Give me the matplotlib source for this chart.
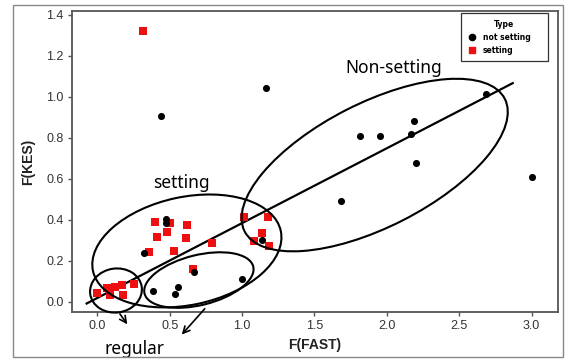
import matplotlib
matplotlib.use("Agg")
import matplotlib.pyplot as plt
from matplotlib.patches import Ellipse, Rectangle
from matplotlib.transforms import ScaledTranslation
from matplotlib.lines import Line2D

# ---- data ----
not_setting_x = [0.438, 1.164, 2.688, 2.186, 1.813, 1.951, 2.165, 2.204, 3.0, 1.682,
                 0.473, 0.473, 0.321, 1.14, 0.666, 0.386, 0.558, 0.535, 0.996]
not_setting_y = [0.909, 1.042, 1.013, 0.884, 0.81, 0.81, 0.818, 0.68, 0.611, 0.493,
                 0.403, 0.387, 0.237, 0.302, 0.148, 0.055, 0.075, 0.037, 0.112]

setting_x = [0.316, 0.0, 0.063, 0.086, 0.12, 0.167, 0.174, 0.252, 0.358, 0.397, 0.413,
             0.478, 0.50, 0.528, 0.611, 0.616, 0.657, 0.795, 1.014, 1.081, 1.14, 1.18, 1.186]
setting_y = [1.32, 0.042, 0.067, 0.034, 0.072, 0.083, 0.034, 0.088, 0.245, 0.389, 0.319,
             0.34, 0.384, 0.25, 0.31, 0.376, 0.161, 0.289, 0.416, 0.298, 0.335, 0.416, 0.275]

fit_intercept = 0.02
fit_slope = 0.365
fit_x_range = [-0.075, 2.87]

x_ticks = [0.0, 0.5, 1.0, 1.5, 2.0, 2.5, 3.0]
x_ticklabels = ["0.0", "0.5", "1.0", "1.5", "2.0", "2.5", "3.0"]
y_ticks = [0.0, 0.2, 0.4, 0.6, 0.8, 1.0, 1.2, 1.4]
y_ticklabels = ["0.0", "0.2", "0.4", "0.6", "0.8", "1.0", "1.2", "1.4"]

DPI = 100
W, H = 565, 359
fig = plt.figure(figsize=(W / DPI, H / DPI), dpi=DPI)
ax = fig.add_axes([72 / W, 1 - 312 / H, (558 - 72) / W, (312 - 11) / H])

tick_font = ["Liberation Sans Narrow", "Liberation Sans", "DejaVu Sans"]
note_font = ["Noto Sans", "DejaVu Sans"]

# regression line
fx = fit_x_range
fy = [fit_intercept + fit_slope * v for v in fx]
ax.plot(fx, fy, color="black", lw=1.6, zorder=2)

# scatter
ax.scatter(setting_x, setting_y, marker="s", s=34, color="#ee1010", linewidths=0, zorder=3)
ax.scatter(not_setting_x, not_setting_y, marker="o", s=26, color="black", linewidths=0, zorder=4)

# ellipses (center in data, size in pixels, angle in degrees)
ellipses = [
    (1.916, 0.668, 292, 124, 27),   # Non-setting
    (0.618, 0.249, 192, 108, 12),   # setting
    (0.128, 0.056, 52, 44, 8),      # regular 1
    (0.701, 0.107, 112, 50, 14),    # regular 2
]
for cx, cy, w, h, ang in ellipses:
    tr = fig.dpi_scale_trans + ScaledTranslation(cx, cy, ax.transData)
    e = Ellipse((0, 0), w / DPI, h / DPI, angle=ang, transform=tr,
                fill=False, edgecolor="black", lw=1.5, zorder=5, clip_on=False)
    ax.add_artist(e)

# annotations
ax.text(2.048, 1.116, "Non-setting", family=note_font, fontsize=12.5, ha="center", va="baseline")
ax.text(0.577, 0.555, "setting", family=note_font, fontsize=12.5, ha="center", va="baseline")
ax.text(0.259, -0.255, "regular", family=note_font, fontsize=12.5, ha="center", va="baseline",
        clip_on=False)
ax.annotate("", xy=(0.2175, -0.120), xytext=(0.144, -0.047),
            arrowprops=dict(arrowstyle="->", lw=1.2, color="black", mutation_scale=12),
            annotation_clip=False)
ax.annotate("", xy=(0.570, -0.169), xytext=(0.754, -0.023),
            arrowprops=dict(arrowstyle="->", lw=1.2, color="black", mutation_scale=12),
            annotation_clip=False)

ax.set_xlim(-0.176, 3.183)
ax.set_ylim(-0.0488, 1.4195)
ax.set_xticks(x_ticks)
ax.set_xticklabels(x_ticklabels, family=tick_font, fontsize=9, color="#333333")
ax.set_yticks(y_ticks)
ax.set_yticklabels(y_ticklabels, family=tick_font, fontsize=9, color="#333333")
ax.tick_params(length=3, width=1, color="#555555", pad=3)
for sp in ax.spines.values():
    sp.set_color("#555555")
    sp.set_linewidth(1.3)

ax.set_xlabel("F(FAST)", family=["Liberation Sans", "DejaVu Sans"], fontweight="bold",
              fontsize=10, labelpad=4, color="#222222")
ax.set_ylabel("F(KES)", family=["Liberation Sans", "DejaVu Sans"], fontweight="bold",
              fontsize=10, labelpad=8, color="#222222")

# legend
handles = [
    Line2D([], [], marker="o", ls="none", color="black", markersize=4.5),
    Line2D([], [], marker="s", ls="none", color="#ee1010", markersize=4.5),
]
leg = ax.legend(handles, ["not setting", "setting"], title="Type",
                loc="upper left", bbox_to_anchor=(0.800, 0.827, 0.179, 0.166), mode="expand",
                borderaxespad=0,
                prop=dict(family="DejaVu Sans", weight="bold", size=5.5),
                title_fontproperties=dict(family="DejaVu Sans", weight="bold", size=5.5),
                frameon=True, fancybox=False, edgecolor="black", handletextpad=0.8,
                handlelength=1.2, borderpad=0.9, labelspacing=0.5)
leg.get_frame().set_linewidth(0.9)

# outer frame
fig.patches.append(Rectangle((13 / W, 1 - 357 / H), 550 / W, 352 / H, transform=fig.transFigure,
                             fill=False, edgecolor="#888888", lw=1.0))

fig.savefig("out.png", dpi=DPI)
